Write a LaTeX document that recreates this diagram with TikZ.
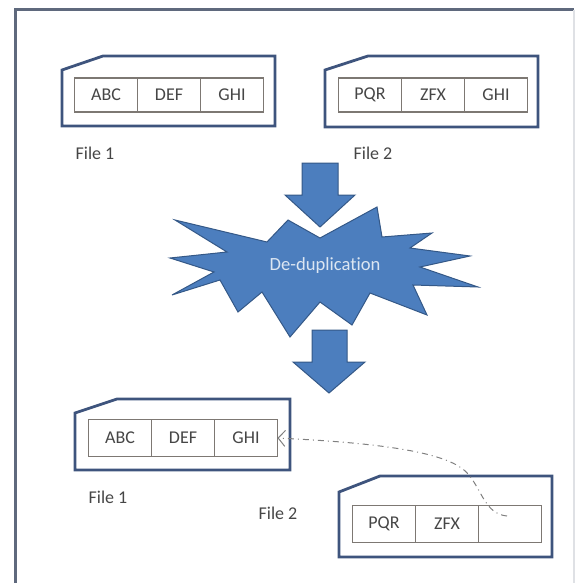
\documentclass[tikz,border=0pt]{standalone}
\usepackage{fontspec}
\setmainfont{Carlito}[Ligatures=NoCommon]
\usetikzlibrary{positioning}
\usetikzlibrary{arrows.meta}
\definecolor{cardline}{RGB}{62,84,125}
\definecolor{cellline}{RGB}{125,120,115}
\definecolor{starfill}{RGB}{76,126,190}
\definecolor{starline}{RGB}{52,88,135}
\definecolor{frameline}{RGB}{95,105,125}
\definecolor{txtgray}{RGB}{70,70,70}
\definecolor{dedup}{RGB}{220,230,242}

\begin{document}
\begin{tikzpicture}[x=0.5pt,y=-0.5pt]
	\tikzset{cell/.style={draw=cellline,line width=0.6pt,minimum width=31.5pt,minimum height=17pt,inner sep=0pt,outer sep=0pt,text=txtgray,font=\fontsize{9}{11}\selectfont},
		card/.style={draw=cardline,line width=1.4pt,fill=white},
		lbl/.style={text=txtgray,font=\fontsize{9}{11}\selectfont},
		blockarrow/.style={fill=starfill,draw=starline,line width=0.5pt,preaction={draw=white,line width=2.5pt}}}
	
	\useasboundingbox (0,0) rectangle (580,583);
	
	% Outer frame
	\draw[frameline,line width=1.5pt] (15,583) -- (15,10) -- (574,10);
	\draw[frameline!20,line width=1pt] (574,10) -- (574,583);
	
	% Draw the first card (File 1, top)
	\draw[card] (62,70) -- (103,56) -- (275,56) -- (275,126) -- (62,126) -- cycle;
	\node[cell] (abcA) at (106,95) {ABC};
	\node[cell,right=0pt of abcA] (defA) {DEF};
	\node[cell,right=0pt of defA] (ghiA) {GHI};
	\node[lbl] (fileA) at (95,153) {File 1};
	
	% Draw the second card (File 2, top)
	\draw[card] (325,70) -- (368,56) -- (538,56) -- (538,127) -- (325,127) -- cycle;
	\node[cell] (pqrA) at (370,95) {PQR};
	\node[cell,right=0pt of pqrA] (zfxA) {ZFX};
	\node[cell,right=0pt of zfxA] (ghiC) {GHI};
	\node[lbl] (fileB) at (373,153) {File 2};
	
	% Arrow into the star
	\draw[blockarrow] (302,163) -- (338,163) -- (338,195) -- (355,195) -- (320,227) -- (285,195) -- (302,195) -- cycle;
	
	% Star
	\draw[fill=starfill,draw=starline,line width=0.5pt]
		(175,220) -- (267,242) -- (288,220) -- (320,238) -- (377,207) -- (382,237)
		-- (432,233) -- (410,248) -- (470,256) -- (420,267) -- (478,287) -- (413,285)
		-- (427,315) -- (370,293) -- (352,325) -- (320,302) -- (290,337) -- (262,292)
		-- (238,312) -- (220,280) -- (172,295) -- (214,272) -- (170,258) -- (227,252) -- cycle;
	\node[text=dedup,font=\fontsize{9.3}{11}\selectfont] (dedupl) at (325,266) {De-duplication};
	
	% Arrow out of the star
	\draw[blockarrow] (312,330) -- (347,330) -- (347,362) -- (365,362) -- (329,393) -- (293,362) -- (312,362) -- cycle;
	
	% Draw the third card (File 1, bottom)
	\draw[card] (75,413) -- (117,399) -- (290,399) -- (290,470) -- (75,470) -- cycle;
	\node[cell,minimum height=18.5pt] (abcB) at (120,438) {ABC};
	\node[cell,minimum height=18.5pt,right=0pt of abcB] (defB) {DEF};
	\node[cell,minimum height=18.5pt,right=0pt of defB] (ghiB) {GHI};
	\node[lbl] (fileC) at (108,497) {File 1};
	\node[lbl] (fileD) at (278,513) {File 2};
	
	% Draw the fourth card (File 2, bottom)
	\draw[card] (339,492) -- (380,476) -- (552,476) -- (552,557) -- (339,557) -- cycle;
	\node[cell,minimum height=18.5pt] (pqrB) at (384,524) {PQR};
	\node[cell,minimum height=18.5pt,right=0pt of pqrB] (zfxB) {ZFX};
	\node[cell,minimum height=18.5pt,right=0pt of zfxB] (blankB) {};
	
	% Pointer back to the stored block
	\coordinate (tail) at (507,516);
	\draw[gray,line width=0.5pt,dash dot,-{Straight Barb[length=3.5pt,width=8pt]}]
		(tail) .. controls (485,514) and (482,490) .. (468,474)
		.. controls (450,452) and (380,443) .. (ghiB.east);
	
\end{tikzpicture}
\end{document}
